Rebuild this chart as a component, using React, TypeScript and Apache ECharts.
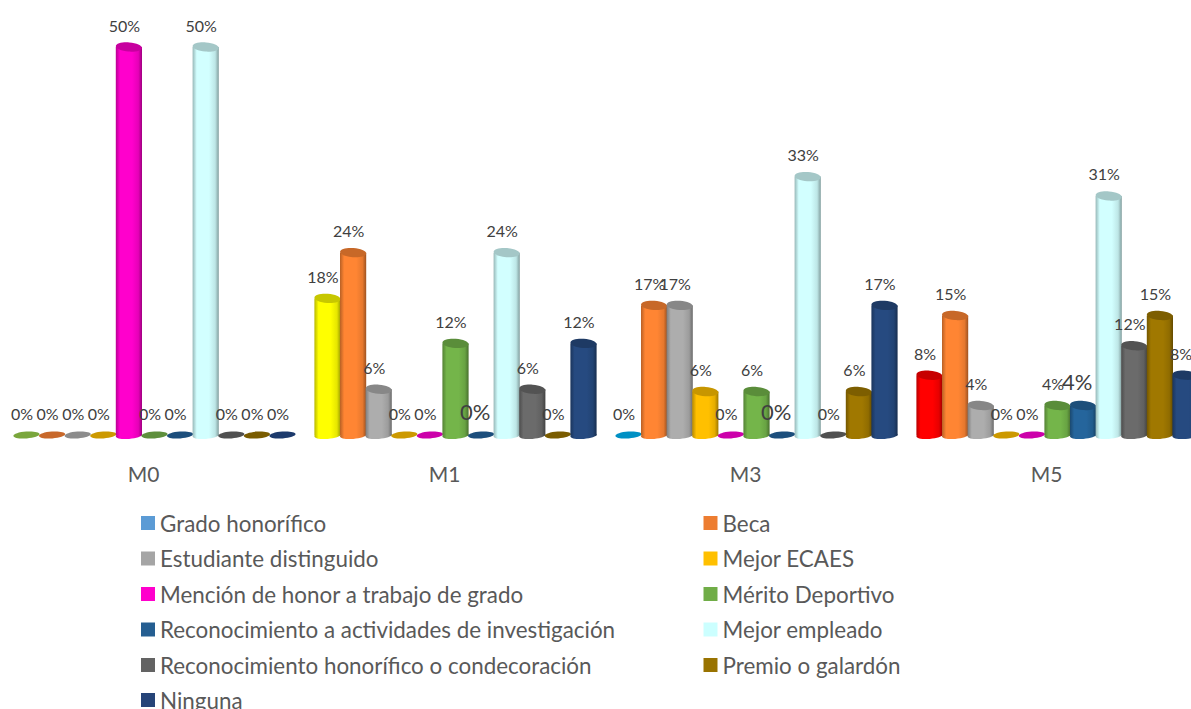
import React, { useEffect, useRef } from "react";
import * as echarts from "echarts";

const categories = ["M0", "M1", "M3", "M5"];
const seriesNames = [
  "Grado honorífico",
  "Beca",
  "Estudiante distinguido",
  "Mejor ECAES",
  "Mención de honor a trabajo de grado",
  "Mérito Deportivo",
  "Reconocimiento a actividades de investigación",
  "Mejor empleado",
  "Reconocimiento honorífico o condecoración",
  "Premio o galardón",
  "Ninguna",
];
const gradoHonorifico = [0, 17.6, 0, 7.7];
const beca = [0, 23.5, 16.7, 15.4];
const estudianteDistinguido = [0, 5.9, 16.7, 3.8];
const mejorEcaes = [0, 0, 5.6, 0];
const mencionHonor = [50, 0, 0, 0];
const meritoDeportivo = [0, 11.8, 5.6, 3.8];
const reconocimientoInvestigacion = [0, 0, 0, 3.8];
const mejorEmpleado = [50, 23.5, 33.3, 30.8];
const reconocimientoHonorifico = [0, 5.9, 0, 11.5];
const premioGalardon = [0, 0, 5.6, 15.4];
const ninguna = [0, 11.8, 16.7, 7.7];
const allValues = [
  gradoHonorifico, beca, estudianteDistinguido, mejorEcaes, mencionHonor, meritoDeportivo,
  reconocimientoInvestigacion, mejorEmpleado, reconocimientoHonorifico, premioGalardon, ninguna,
];
const legendColors = ["#5B9BD5", "#ED7D31", "#A5A5A5", "#FFC000", "#FF00CC", "#70AD47", "#255E91", "#CCFFFF", "#636363", "#997300", "#264478"];
const barColors = ["#5B9BD5", "#FF8533", "#ADADAD", "#FFC000", "#FF00CC", "#74B54A", "#25659C", "#D2FFFF", "#6B6B6B", "#A07800", "#264A80"];
const zeroColors = ["#7AA63C", "#C8682A", "#8C8C8C", "#CC9900", "#CC00AA", "#5E8F3C", "#1C4E7C", "#A8C8C8", "#505050", "#7A5C00", "#1C3A6C"];
const firstSeriesByCategory = ["#7AA63C", "#FFFF00", "#0090C4", "#FF0000"];
const enlargedLabelSeries = 6;

const FONT = "Lato";
const PITCH_RATIO = 25.6 / 301;

const darken = (color: string, t: number) => echarts.color.lerp(t, [color, "#000000"]);

function renderCylinder(seriesIndex: number) {
  return (params: any, api: any) => {
    const cat = api.value(0);
    const value = api.value(1);
    const base = api.coord([cat, 0]);
    const top = api.coord([cat, value]);
    const pitch = api.size([1, 0])[0] * PITCH_RATIO;
    const cx = base[0] + (seriesIndex - 5) * pitch;
    const rx = pitch / 2 + 0.3;
    let color = barColors[seriesIndex];
    let zeroColor = zeroColors[seriesIndex];
    if (seriesIndex === 0) {
      color = firstSeriesByCategory[cat];
      zeroColor = color;
    }
    const big = seriesIndex === enlargedLabelSeries && cat > 0;
    const text = Math.round(value) + "%";
    const label = {
      type: "text",
      x: cx - (big ? 6 : 4.5),
      y: top[1] - (big ? 24 : 22),
      style: {
        text,
        fill: "#404040",
        font: `${big ? 22 : 16}px ${FONT}`,
        align: "center",
        verticalAlign: "middle",
      },
      z2: 10,
    };
    const children: any[] = [];
    if (value === 0) {
      children.push({
        type: "ellipse",
        x: cx,
        y: base[1],
        rotation: 0.07,
        shape: { cx: 0, cy: 0, rx, ry: 3.4 },
        style: { fill: zeroColor },
      });
    } else {
      const grad = new echarts.graphic.LinearGradient(0, 0, 1, 0, [
        { offset: 0, color: darken(color, 0.28) },
        { offset: 0.16, color },
        { offset: 0.62, color },
        { offset: 0.86, color: darken(color, 0.1) },
        { offset: 1, color: darken(color, 0.38) },
      ]);
      children.push({
        type: "ellipse",
        x: cx,
        y: base[1] + 0.5,
        rotation: 0.07,
        shape: { cx: 0, cy: 0, rx, ry: 3.4 },
        style: { fill: grad },
      });
      children.push({
        type: "rect",
        shape: { x: cx - rx, y: top[1], width: rx * 2, height: base[1] - top[1] + 0.5 },
        style: { fill: grad },
      });
      children.push({
        type: "ellipse",
        x: cx,
        y: top[1],
        rotation: -0.07,
        shape: { cx: 0, cy: 0, rx, ry: 4.6 },
        style: { fill: darken(color, 0.22) },
      });
    }
    children.push(label);
    return { type: "group", children };
  };
}

export default function App() {
  const ref = useRef<HTMLDivElement>(null);
  useEffect(() => {
    const chart = echarts.init(ref.current!, undefined, { renderer: "svg" });
    const legendBase = {
      orient: "vertical" as const,
      padding: 0,
      itemWidth: 14,
      itemHeight: 14,
      itemGap: 9.5,
      icon: "rect",
      selectedMode: false,
      textStyle: { color: "#595959", fontFamily: FONT, fontSize: 22.4, lineHeight: 26 },
    };
    chart.setOption({
      animation: false,
      backgroundColor: "#ffffff",
      textStyle: { fontFamily: FONT },
      legend: [
        { ...legendBase, left: 141, top: 510, data: seriesNames.filter((_, i) => i % 2 === 0 && i < 10) },
        { ...legendBase, left: 703.5, top: 510, data: seriesNames.filter((_, i) => i % 2 === 1) },
        { ...legendBase, left: 141, top: 687, data: seriesNames.slice(10) },
      ],
      grid: { left: 4, top: 47, width: 1204, height: 388, outerBoundsMode: "none" },
      xAxis: {
        type: "category",
        data: categories,
        axisLine: { show: false },
        axisTick: { show: false },
        axisLabel: { color: "#595959", fontFamily: FONT, fontSize: 21, margin: 28, padding: [0, 22, 0, 0] },
      },
      yAxis: { type: "value", min: 0, max: 50, show: false, splitLine: { show: false } },
      series: allValues.map((vals, si) => ({
        type: "custom",
        name: seriesNames[si],
        coordinateSystem: "cartesian2d",
        itemStyle: { color: legendColors[si] },
        encode: { x: 0, y: 1 },
        data: vals.map((v, i) => [i, v]),
        renderItem: renderCylinder(si),
      })),
    });
    return () => chart.dispose();
  }, []);
  return <div ref={ref} style={{ position: "absolute", left: 0, top: 0, width: 1191, height: 709, overflow: "hidden" }} />;
}
